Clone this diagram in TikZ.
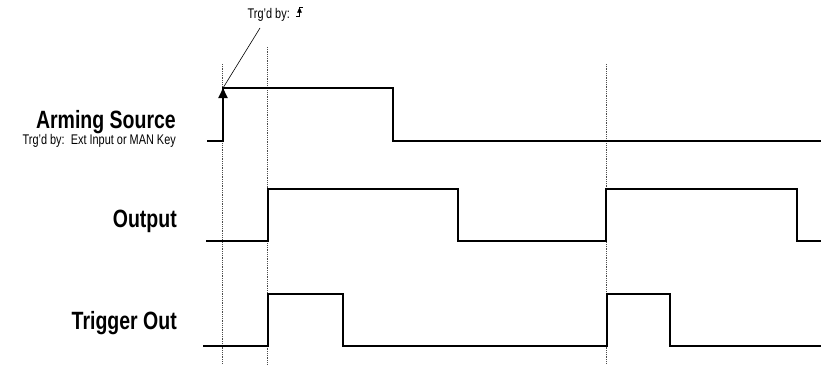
\documentclass[tikz,border=0pt]{standalone}
\usepackage{fontspec}
\setmainfont{Liberation Sans}[FakeStretch=0.78]
\usetikzlibrary{arrows.meta}

\begin{document}
\begin{tikzpicture}[x=1pt,y=-1pt,
    sig/.style={line width=2pt,line join=miter},
    guide/.style={densely dotted,line width=0.8pt,black!70},
    signame/.style={anchor=base east,inner sep=0pt,font=\fontsize{25}{25}\selectfont\bfseries},
    note/.style={inner sep=0pt,font=\fontsize{14}{15}\selectfont}]

  \useasboundingbox (0,0) rectangle (821,364);

  % Reperes verticaux
  \draw[guide] (222,64) -- (222,364);
  \draw[guide] (267,47) -- (267,364);
  \draw[guide] (606,64) -- (606,364);

  % Noms des signaux
  \node[signame] (arm) at (176,128) {Arming Source};
  \node[note,anchor=base east] (armsrc) at (176,144) {Trg'd by:\ \ Ext Input or MAN Key};
  \node[signame] (out) at (177,227) {Output};
  \node[signame] (trig) at (177,329) {Trigger Out};

  % Arming Source
  \coordinate (armtip) at (223,88);
  \draw[sig] (207,141) -- (223,141) -- (223,88) -- (393,88) -- (393,141) -- (821,141);
  \draw[sig,-{Triangle[length=10pt,width=9pt]}] (223,120) -- (armtip);

  % Output
  \draw[sig] (206,241) -- (268,241) -- (268,189) -- (458,189) -- (458,241)
    -- (606,241) -- (606,189) -- (797,189) -- (797,241) -- (821,241);

  % Trigger Out
  \draw[sig] (203,346) -- (268,346) -- (268,294) -- (343,294) -- (343,346)
    -- (607,346) -- (607,294) -- (670,294) -- (670,346) -- (821,346);

  % Declenchement
  \node[note,anchor=base east] (trg) at (290,18) {Trg'd by:};
  \draw[line width=0.6pt] (260,28) -- (armtip);
  \draw[line width=0.9pt] (296,16.5) -- (299.5,16.5) -- (299.5,7) -- (303,7);
  \draw[-{Triangle[length=5pt,width=4.5pt]}] (299.5,14) -- (299.5,7.5);

\end{tikzpicture}
\end{document}
